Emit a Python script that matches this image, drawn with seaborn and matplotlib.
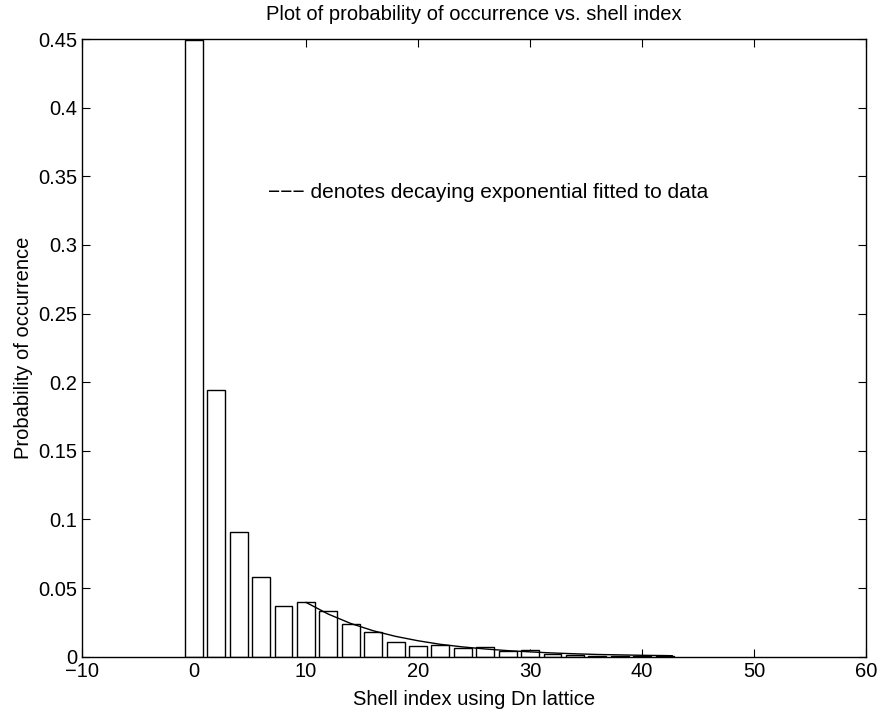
import matplotlib
matplotlib.use("Agg")
import matplotlib.pyplot as plt
import seaborn as sns
import pandas as pd

# Bar data: shell index and probability of occurrence
shell_index = [0, 2, 4, 6, 8, 10, 12, 14, 16, 18, 20, 22, 24, 26, 28, 30, 32, 34, 36, 38, 40, 42]
probability = [0.449, 0.194, 0.091, 0.058, 0.037, 0.0396, 0.0333, 0.0235, 0.018, 0.0105, 0.0076,
               0.0088, 0.006, 0.0072, 0.0044, 0.0049, 0.0016, 0.0011, 0.0008, 0.0005, 0.0003, 0.0002]

# Fitted decaying exponential
fit_x = [10, 12, 14, 16, 18, 20, 22, 24, 26, 28, 30, 32, 34, 36, 38, 40, 42, 42.7]
fit_y = [0.0396, 0.0310, 0.0242, 0.0189, 0.0148, 0.0116, 0.0090, 0.0071, 0.0056, 0.0044,
         0.0035, 0.0027, 0.0021, 0.0016, 0.0013, 0.0010, 0.0008, 0.0007]

x_ticks = [-10, 0, 10, 20, 30, 40, 50, 60]
y_ticks = [0, 0.05, 0.1, 0.15, 0.2, 0.25, 0.3, 0.35, 0.4, 0.45]
y_tick_labels = ["0", "0.05", "0.1", "0.15", "0.2", "0.25", "0.3", "0.35", "0.4", "0.45"]

sns.set_theme(style="ticks")
plt.rcParams['font.family'] = ['Liberation Sans', 'DejaVu Sans']

bars = pd.DataFrame({"shell": shell_index, "prob": probability})
fit = pd.DataFrame({"x": fit_x, "y": fit_y})

FS = 14.5

fig = plt.figure(figsize=(8.77, 7.13), dpi=100)
ax = fig.add_axes([0.0932, 0.0790, 0.8946, 0.8663])

sns.barplot(data=bars, x="shell", y="prob", native_scale=True, width=0.8,
            color="white", edgecolor="black", linewidth=1.0, saturation=1, ax=ax, zorder=2)
sns.lineplot(data=fit, x="x", y="y", color="black", linewidth=1.0, ax=ax, zorder=3)

ax.set_xlim(-10, 60)
ax.set_ylim(0, 0.45)
ax.set_xticks(x_ticks)
ax.set_yticks(y_ticks)
ax.set_yticklabels(y_tick_labels)
ax.tick_params(direction="in", length=6, width=0.8, top=True, right=True,
               labelsize=FS, colors="black", pad=3)
ax.tick_params(axis="x", pad=4)
for s in ax.spines.values():
    s.set_visible(True)
    s.set_linewidth(1.0)
    s.set_color("black")
    s.set_zorder(5)

ax.set_xlabel("Shell index using Dn lattice", fontsize=FS, labelpad=6, color="black")
ax.set_ylabel("Probability of occurrence", fontsize=FS, labelpad=4, color="black")
ax.set_title("Plot of probability of occurrence vs. shell index", fontsize=FS, pad=14,
             color="black")
ax.text(6.6, 0.338, "\u2212\u2212\u2212 denotes decaying exponential fitted to data",
        fontsize=15, ha="left", va="center", color="black")

fig.savefig("out.png", dpi=100, facecolor="white")
